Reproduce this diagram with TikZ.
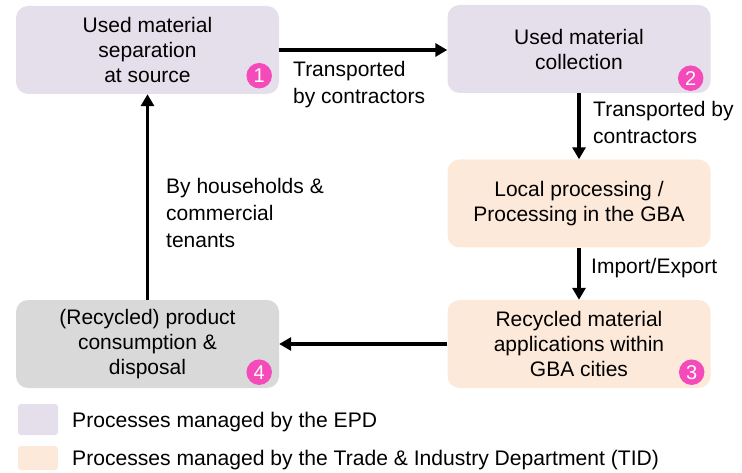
\documentclass[tikz,border=0pt]{standalone}
\usepackage{fontspec}
\setmainfont{Liberation Sans}
\usetikzlibrary{arrows.meta}
\definecolor{epd}{HTML}{E5DFEC}
\definecolor{tid}{HTML}{FDE9D9}
\definecolor{cons}{HTML}{D9D9D9}
\definecolor{badge}{HTML}{F54AB9}
\begin{document}
\begin{tikzpicture}[x=1pt,y=-1pt,
  box/.style={rounded corners=12pt, minimum width=263pt, minimum height=88pt, inner sep=0pt, align=center, font=\fontsize{21}{25}\selectfont},
  lbl/.style={inner sep=0pt, align=left, anchor=north west, font=\fontsize{21}{27}\selectfont},
  flow/.style={line width=3.3pt, -{Triangle[length=12pt,width=13pt]}},
  badgest/.style={circle, fill=badge, minimum size=25.5pt, inner sep=0pt, text=white, font=\fontsize{20}{20}\selectfont},
  key/.style={rounded corners=3pt, minimum width=40pt, inner sep=0pt},
  keytext/.style={anchor=base west, inner sep=0pt, font=\fontsize{21.1}{25}\selectfont}
]
\useasboundingbox (0,0) rectangle (742,473);
\node[box, fill=epd] (b1) at (147.5,50) {Used material\\separation\\at source};
\node[box, fill=epd] (b2) at (579,49) {Used material\\collection};
\node[box, fill=tid] (b3) at (579,203.5) {Local processing /\\Processing in the GBA};
\node[box, fill=tid] (b4) at (579,344) {Recycled material\\applications within\\GBA cities};
\node[box, fill=cons] (b5) at (147.5,344) {(Recycled) product\\consumption \&\\disposal};
\node[badgest] (n1) at ([xshift=-20pt,yshift=18.5pt]b1.south east) {1};
\node[badgest] (n2) at ([xshift=-20pt,yshift=15pt]b2.south east) {2};
\node[badgest] (n3) at ([xshift=-19pt,yshift=16pt]b4.south east) {3};
\node[badgest] (n4) at ([xshift=-20pt,yshift=16pt]b5.south east) {4};
\draw[flow] (b1.east) -- (b1.east -| b2.west);
\draw[flow] (b2.south) -- (b3.north);
\draw[flow] (b3.south) -- (b4.north);
\draw[flow] (b4.west) -- (b4.west -| b5.east);
\draw[flow] (b5.north) -- (b1.south);
\node[lbl] (l1) at (293,61) {Transported\\by contractors};
\node[lbl] (l2) at (593,101) {Transported by\\contractors};
\node[lbl] (l3) at (591,258.5) {Import/Export};
\node[lbl] (l4) at (166,178) {By households \&\\commercial\\tenants};
\node[key, fill=epd, minimum height=31pt] (k1) at (38,419.5) {};
\node[key, fill=tid, minimum height=24pt] (k2) at (38,458) {};
\node[keytext] (t1) at (72,427) {Processes managed by the EPD};
\node[keytext] (t2) at (72,465) {Processes managed by the Trade \& Industry Department (TID)};
\end{tikzpicture}
\end{document}
